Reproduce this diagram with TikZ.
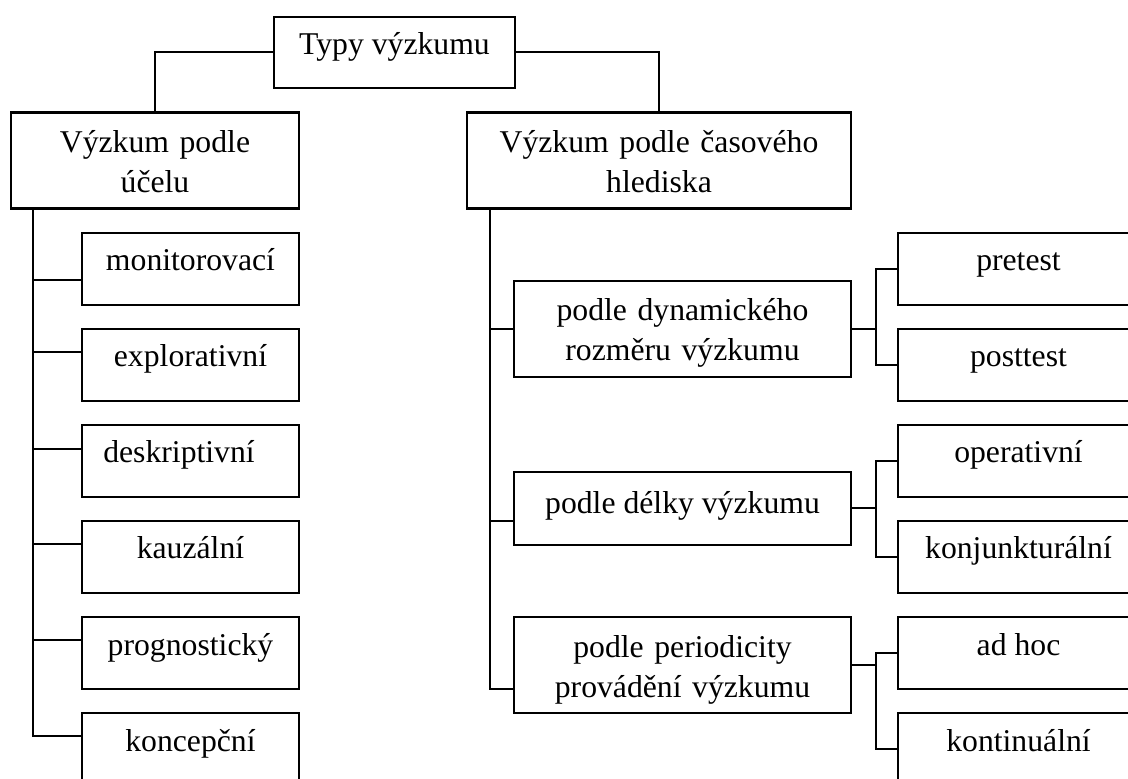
\documentclass[tikz,border=0pt]{standalone}
\usepackage{fontspec}
\setmainfont{Liberation Serif}
\begin{document}
\begin{tikzpicture}[x=0.5pt,y=-0.5pt,
  font=\fontsize{15.85}{20}\selectfont,
  box/.style={draw,line width=1.2pt,inner sep=0pt,minimum width=#1},
  leaf/.style={box=#1,minimum height=36pt,text height=8pt,text depth=6pt},
  group/.style={box=#1,minimum height=48pt,text width=#1-4pt,align=center,text height=10pt,text depth=18pt},
  link/.style={line width=1pt}]
\clip (0,0) rectangle (1128,779);
\node[leaf=120.5pt,minimum height=35.5pt] (typy)at(394.5,52.5){Typy výzkumu};
\node[group=144pt] (ucel)at(155,160.5){Výzkum podle\\účelu};
\node[group=192pt] (cas)at(659,160.5){Výzkum podle časového\\hlediska};
\node[leaf=108.5pt] (l1)at(190.5,269){monitorovací};
\node[leaf=108.5pt] (l2)at(190.5,365){explorativní};
\node[leaf=108.5pt] (l3)at(190.5,461){deskriptivní\kern11.5pt};
\node[leaf=108.5pt] (l4)at(190.5,557){kauzální};
\node[leaf=108.5pt] (l5)at(190.5,653){prognostický};
\node[leaf=108.5pt] (l6)at(190.5,749){koncepční};
\node[group=168.5pt] (dyn)at(682.5,329){podle dynamického\\rozměru výzkumu};
\node[leaf=168.5pt,minimum height=36.5pt,text height=10pt,text depth=5pt] (delky)at(682.5,508.5){podle délky výzkumu};
\node[group=168.5pt] (period)at(682.5,665){podle periodicity\\provádění výzkumu};
\node[leaf=120.5pt] (r1)at(1018.5,269){pretest};
\node[leaf=120.5pt] (r2)at(1018.5,365){posttest};
\node[leaf=120.5pt] (r3)at(1018.5,461){operativní};
\node[leaf=120.5pt] (r4)at(1018.5,557){konjunkturální};
\node[leaf=120.5pt] (r5)at(1018.5,653){ad hoc};
\node[leaf=120.5pt] (r6)at(1018.5,749){kontinuální};
\draw[link] (typy.west) -| (ucel.north);
\draw[link] (typy.east) -| (cas.north);
\coordinate (lt) at ([xshift=11.5pt]ucel.south west);
\foreach \n/\dy in {l1/-5.5,l2/6.5,l3/6,l4/6.5,l5/6.5,l6/6.5}
  \draw[link] (lt) |- ([yshift=\dy pt]\n.west);
\coordinate (rt) at ([xshift=12pt]cas.south west);
\foreach \n/\dy in {dyn/0,delky/-6.25,period/-12}
  \draw[link] (rt) |- ([yshift=\dy pt]\n.west);
\foreach \p/\a/\b in {dyn/r1/r2,delky/r3/r4,period/r5/r6}{
  \coordinate (\p j) at ([xshift=12pt]\p.east);
  \draw[link] (\p.east) -- (\p j);
  \draw[link] (\a.west) -| (\p j) |- (\b.west);}
\end{tikzpicture}
\end{document}
